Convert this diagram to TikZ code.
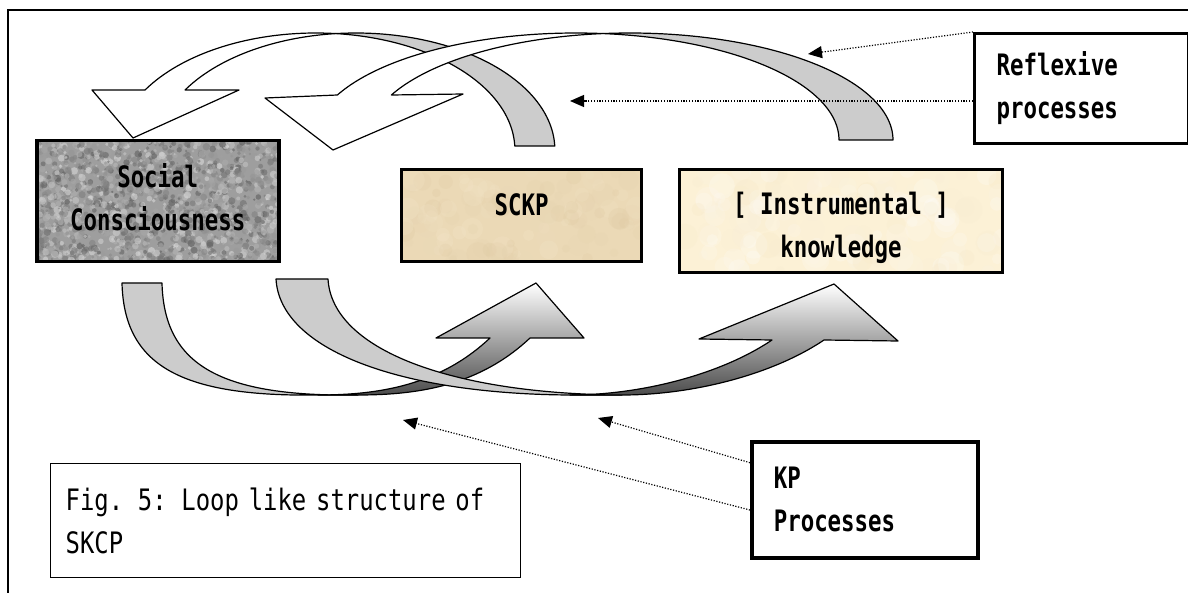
\documentclass[tikz,border=0pt]{standalone}
\usepackage{fontspec}
\newfontfamily\lblfont[FakeStretch=0.76]{DejaVu Sans Mono Bold}
\newfontfamily\capfont[FakeStretch=0.81]{DejaVu Sans Mono}
\usetikzlibrary{arrows.meta,calc}
\definecolor{crescent}{gray}{0.8}
\definecolor{granl}{gray}{0.86}
\definecolor{grand}{gray}{0.36}
\definecolor{granbase}{gray}{0.62}
\definecolor{sckpbase}{RGB}{235,217,182}
\definecolor{sckpdark}{RGB}{222,200,160}
\definecolor{sckplight}{RGB}{245,232,204}
\definecolor{instrbase}{RGB}{252,241,214}
\definecolor{instrdark}{RGB}{246,230,194}
\tikzset{
  speckle/.style n args={8}{path picture={%
    \pgfmathsetseed{#1}%
    \foreach \i in {1,...,#2}{%
      \pgfmathsetmacro{\dx}{#3*rnd}%
      \pgfmathsetmacro{\dy}{#4*rnd}%
      \pgfmathsetmacro{\rr}{#5*(0.3+0.7*rnd)}%
      \pgfmathtruncatemacro{\gv}{100*rnd}%
      \fill[#6!\gv!#7, opacity=#8] ([shift={(\dx pt,-\dy pt)}]path picture bounding box.north west) circle[radius=\rr pt];
    }}},
  boxbase/.style={draw=black, rectangle, inner sep=0pt, anchor=north west},
  lbl/.style={font=\lblfont\fontsize{29.5pt}{43pt}\selectfont},
  capt/.style={font=\capfont\fontsize{29.5pt}{43pt}\selectfont},
  crest/.style={fill=crescent, draw=black, line width=1.2pt, line join=round},
  frontw/.style={fill=white, draw=black, line width=1.2pt, line join=round},
  frontg/.style={top color=white, middle color=black!12, bottom color=black!70, draw=black, line width=1.2pt, line join=round},
  dotarrow/.style={line width=1.2pt, dash pattern=on 1.2pt off 1.6pt, -{Triangle[length=14pt,width=12pt]}}
}
\begin{document}
\begin{tikzpicture}[x=1pt,y=-1pt]
\useasboundingbox (0,0) rectangle (1188,593);
\fill[white] (0,0) rectangle (1188,593);
% frame
\draw[line width=1.5pt] (1188,10) -- (8,10) -- (8,593);

% boxes
\node[boxbase, line width=3.5pt, fill=granbase, speckle={11}{1700}{242}{121}{3.8}{granl}{grand}{0.6},
      minimum width=242pt, minimum height=121pt, align=center, lbl] (social) at (35,139) {Social\\Consciousness\rule[-8pt]{0pt}{0pt}};
\node[boxbase, line width=3pt, fill=sckpbase, speckle={5}{120}{240}{92}{12}{sckpdark}{sckplight}{0.25},
      minimum width=240pt, minimum height=92pt, lbl] (sckp) at (400,168) {\rule[-22pt]{0pt}{0pt}SCKP};
\node[boxbase, line width=3pt, fill=instrbase, speckle={8}{140}{323}{103}{14}{instrdark}{white}{0.25},
      minimum width=323pt, minimum height=103pt, align=center, lbl] (instr) at (678,168) {\rule{0pt}{37pt}[ Instrumental ]\\knowledge};
\node[boxbase, line width=3pt, fill=white, minimum width=214pt, minimum height=110pt,
      inner xsep=22pt, text width=170pt, align=left, lbl] (refl) at (973,32) {Reflexive\\processes};
\node[boxbase, line width=3.5pt, fill=white, minimum width=226pt, minimum height=116pt,
      inner xsep=22pt, text width=182pt, align=left, lbl] (kp) at (750,440) {KP\\Processes};
\node[boxbase, line width=1.3pt, fill=white, minimum width=463pt, minimum height=114pt,
      inner xsep=15pt, text width=440pt, align=left, capt] (cap) at (50,463) {Fig. 5: Loop like structure of\\SKCP};

% upper arrow A
\filldraw[crest] plot[domain=1.96:95.77,samples=60] ({355.9+199*cos(\x)},{150-117*sin(\x)})
  -- plot[domain=84.23:1.96,samples=60] ({315.9+199*cos(\x)},{150-117*sin(\x)}) -- cycle;
\filldraw[frontw] plot[domain=84.23:149.15,samples=60] ({315.9+199*cos(\x)},{150-117*sin(\x)})
  -- (92,90) -- (133,138) -- (239,90)
  -- plot[domain=149.15:95.77,samples=60] ({355.9+199*cos(\x)},{150-117*sin(\x)}) -- cycle;
% upper arrow B
\filldraw[crest] plot[domain=0:95.89,samples=60] ({630+263*cos(\x)},{140-107*sin(\x)})
  -- plot[domain=84.11:0,samples=60] ({576+263*cos(\x)},{140-107*sin(\x)}) -- cycle;
\filldraw[frontw] plot[domain=84.11:155.13,samples=60] ({576+263*cos(\x)},{140-107*sin(\x)})
  -- (265,98) -- (333,150) -- (463,94)
  -- plot[domain=155.13:95.89,samples=60] ({630+263*cos(\x)},{140-107*sin(\x)}) -- cycle;

% lower arrow C
\draw[crest] (122,283) .. controls (124,365) and (180,397) .. (318,395) -- (358,395)
  .. controls (220,397) and (164,365) .. (162,283) -- cycle;
\draw[frontg] (318,395) .. controls (380,395) and (440,385) .. (490,338) -- (436,338) -- (536,283)
  -- (584,338) -- (530,338) .. controls (480,385) and (420,395) .. (358,395) -- cycle;
% lower arrow D
\draw[crest] (276,279) .. controls (280,350) and (400,394) .. (570,395) -- (622,395)
  .. controls (452,394) and (332,350) .. (328,279) -- cycle;
\draw[frontg] (570,395) .. controls (640,395) and (720,375) .. (772,340) -- (699,339) -- (834,284)
  -- (898,341) -- (824,340) .. controls (772,375) and (692,395) .. (622,395) -- cycle;

% dotted pointer arrows
\coordinate (t1) at (808,54);
\coordinate (t2) at (570,101);
\coordinate (t3) at (598,418);
\coordinate (t4) at (403,420);
\draw[dotarrow] (refl.north west) -- (t1);
\draw[dotarrow] (refl.west |- t2) -- (t2);
\draw[dotarrow] ($(kp.north west)!0.19!(kp.south west)$) -- (t3);
\draw[dotarrow] ($(kp.north west)!0.586!(kp.south west)$) -- (t4);
\end{tikzpicture}
\end{document}
